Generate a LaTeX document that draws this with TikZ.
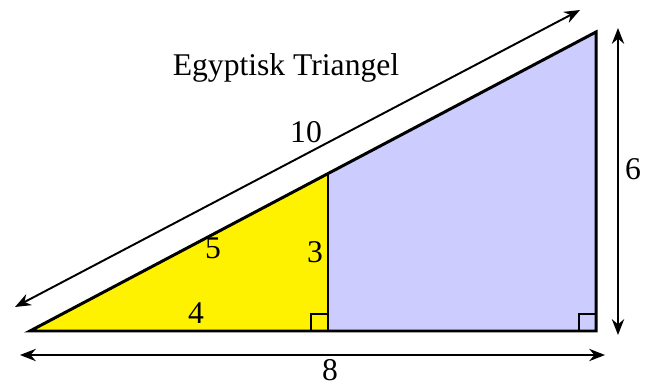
\documentclass[tikz,border=0pt]{standalone}
\usepackage{fontspec}
\setmainfont{Liberation Serif}
\usetikzlibrary{arrows.meta}
\definecolor{lavender}{RGB}{204,204,255}

\begin{document}
\begin{tikzpicture}[x=0.02cm,y=-0.02cm,
	dimline/.style={line width=1.1pt,{Stealth[length=9pt,width=7pt]}-{Stealth[length=9pt,width=7pt]}},
	side/.style={line width=1.7pt},
	rmark/.style={line width=0.8pt},
	lbl/.style={font=\fontsize{18}{20}\selectfont, inner sep=0pt}]
	\useasboundingbox (0,0) rectangle (652,385);
	\coordinate (A) at (30,331);
	\coordinate (B) at (596,331);
	\coordinate (C) at (596,32);
	\coordinate (M) at (328,331);
	\coordinate (H) at (328,173.6);
	\fill[yellow] (A) -- (M) -- (H) -- cycle;
	\fill[lavender] (M) -- (B) -- (C) -- (H) -- cycle;
	\foreach \c in {M,B} { \draw[rmark] ([xshift=-17*0.02cm]\c) |- ([yshift=17*0.02cm]\c); }
	\draw[side, line join=miter] (A) -- (B) -- (C) -- cycle;
	\draw[side] (M) -- (H);
	% dimension arrows
	\coordinate (hyp1) at (15,307);
	\coordinate (hyp2) at (580,10);
	\coordinate (bot1) at (20,355);
	\coordinate (bot2) at (605,355);
	\coordinate (rgt1) at (618,28);
	\coordinate (rgt2) at (618,335);
	\draw[dimline] (hyp1) -- (hyp2);
	\draw[dimline] (bot1) -- (bot2);
	\draw[dimline] (rgt1) -- (rgt2);
	\node[lbl, anchor=base] (title) at (286,75) {Egyptisk Triangel};
	\foreach \nm/\x/\y/\t in {lten/306/132/10, lsix/633/169/6, leight/330/370/8, lfive/213/248/5, lthree/315/252/3, lfour/196/313/4} {
		\node[lbl] (\nm) at (\x,\y) {\t};
	}
\end{tikzpicture}
\end{document}
